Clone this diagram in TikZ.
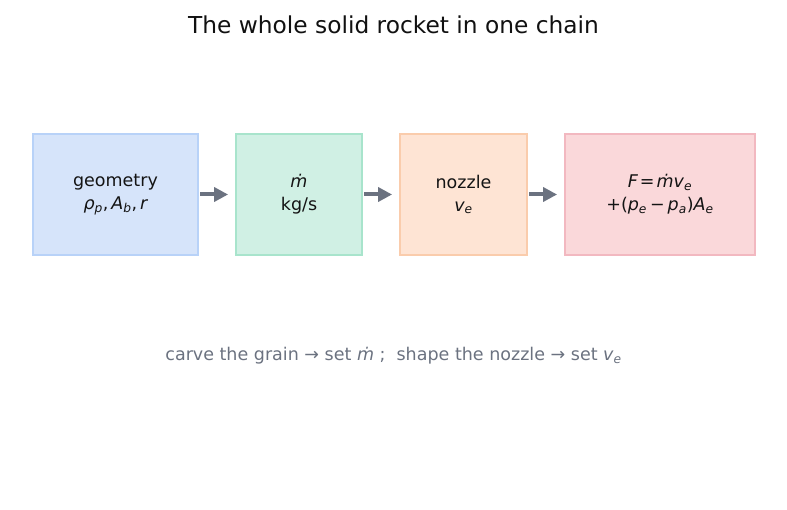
\documentclass[tikz,border=0pt]{standalone}
\usepackage{fontspec}
\setmainfont{DejaVu Sans}
\usetikzlibrary{arrows.meta}
\definecolor{titlec}{RGB}{17,17,17}
\definecolor{txt}{RGB}{20,20,20}
\definecolor{capc}{RGB}{107,114,128}
\definecolor{arrc}{RGB}{107,114,128}
\definecolor{bluefill}{RGB}{214,228,250}
\definecolor{blueline}{RGB}{184,210,248}
\definecolor{greenfill}{RGB}{208,240,228}
\definecolor{greenline}{RGB}{168,228,204}
\definecolor{orangefill}{RGB}{254,228,212}
\definecolor{orangeline}{RGB}{250,204,172}
\definecolor{redfill}{RGB}{250,216,218}
\definecolor{redline}{RGB}{242,184,192}
\newcommand{\mi}[1]{{\itshape #1}}
\newcommand{\msub}[1]{\textsubscript{\itshape #1}}
\begin{document}
\begin{tikzpicture}[x=1pt,y=-1pt,
  box/.style={draw, line width=1.8pt, minimum height=121pt, inner sep=0pt,
    align=center, text=txt, font=\fontsize{17.5}{23}\selectfont},
  flow/.style={draw=arrc, line width=4pt, -{Triangle[length=14pt,width=14pt]},
    shorten <=1.5pt, shorten >=7pt}]
\useasboundingbox (0,0) rectangle (787,510);
\node[font=\fontsize{23.3}{28}\selectfont, text=titlec] (title) at (393.5,25) {The whole solid rocket in one chain};
\node[box, fill=bluefill, draw=blueline, minimum width=165pt] (geo) at (115.5,194.5)
  {geometry\\ \mi{ρ}\msub{p},\,\mi{A}\msub{b},\,\mi{r}};
\node[box, fill=greenfill, draw=greenline, minimum width=126pt] (mdot) at (299,194.5)
  {\mi{ṁ}\\kg/s};
\node[box, fill=orangefill, draw=orangeline, minimum width=127pt] (noz) at (463.5,194.5)
  {nozzle\\ \mi{v}\msub{e}};
\node[box, fill=redfill, draw=redline, minimum width=190pt] (thr) at (660,194.5)
  {\mi{F}\kern2pt=\kern2pt\mi{ṁv}\msub{e}\\+(\mi{p}\msub{e}\kern3pt−\kern3pt\mi{p}\msub{a})\mi{A}\msub{e}};
\draw[flow] (geo.east) -- (mdot.west);
\draw[flow] (mdot.east) -- (noz.west);
\draw[flow] (noz.east) -- (thr.west);
\node[font=\fontsize{17.5}{20}\selectfont, text=capc] (cap) at (393.5,356)
  {carve the grain → set \mi{ṁ} ;\ \ shape the nozzle → set \mi{v}\msub{e}};
\end{tikzpicture}
\end{document}
